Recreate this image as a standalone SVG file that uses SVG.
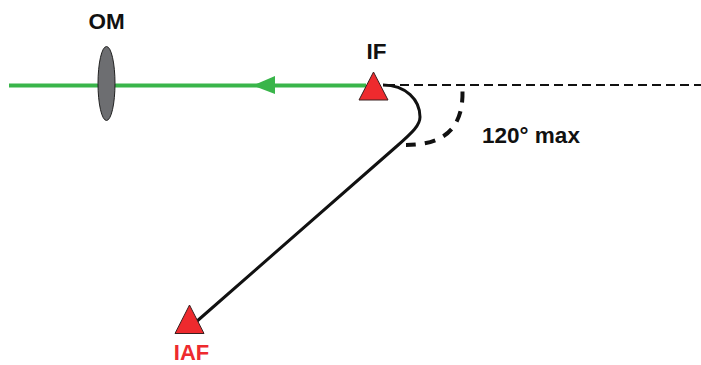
<svg xmlns="http://www.w3.org/2000/svg" width="701" height="365" viewBox="0 0 701 365">
<style>
text{font-family:"Liberation Sans",Arial,sans-serif;font-weight:bold;font-size:22.500px;text-anchor:middle;fill:#111}
.wp{fill:#ee2a2e;stroke:#3a2020;stroke-width:1}
</style>
<rect width="701" height="365" fill="#fff"/>
<g id="connectors" fill="none">
<path d="M9 85.500H366" stroke="#39b54a" stroke-width="4"/>
<path d="M275 76V94L253 85.500Z" fill="#39b54a"/>
<path d="M386 85H701" stroke="#111" stroke-width="2" stroke-dasharray="9 5"/>
<path d="M462.500 91.500C463 120 452 145 406 145" stroke="#111" stroke-width="4" stroke-dasharray="11 9"/>
<path d="M383 85C406 85 420 100 420 117C420 125 413 132 397 146L196 322" stroke="#111" stroke-width="3"/>
</g>
<g id="OM">
<ellipse cx="106.500" cy="83.500" rx="8.500" ry="37" fill="#6d6e71" stroke="#222" stroke-width="1"/>
<text x="106.500" y="28.500">OM</text>
</g>
<g id="IF">
<path class="wp" d="M373.500 72L388 100H359Z"/>
<text x="376.500" y="58.500">IF</text>
</g>
<g id="IAF">
<path class="wp" d="M189.500 305L204 333.500H175Z"/>
<text x="191.500" y="360" style="fill:#ee2a2e;font-size:22px">IAF</text>
</g>
<g id="angle-label">
<text x="531" y="142.500">120° max</text>
</g>
</svg>
